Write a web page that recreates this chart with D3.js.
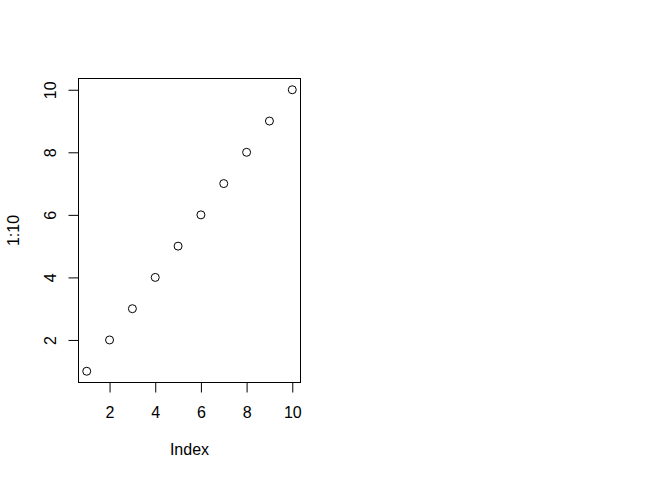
<!DOCTYPE html>
<html>
<head>
<meta charset="utf-8">
<script src="https://cdn.jsdelivr.net/npm/d3@7"></script>
<style>
  html, body { margin: 0; padding: 0; background: #fff; }
  svg { display: block; }
  text { font-family: "Liberation Sans", Arial, Helvetica, sans-serif; font-size: 16px; fill: #000; }
</style>
</head>
<body>
<svg id="chart" width="672" height="480"></svg>
<script>
const indexValues = [1, 2, 3, 4, 5, 6, 7, 8, 9, 10];
const seriesValues = [1, 2, 3, 4, 5, 6, 7, 8, 9, 10];
const xTicks = [2, 4, 6, 8, 10];
const yTicks = [2, 4, 6, 8, 10];
const xLabel = "Index";
const yLabel = "1:10";

(function () {
const svg = d3.select("#chart");
const pL = 78.5, pR = 300.5, pT = 78.5, pB = 382.5;

// R-style 4% range extension
function ext(arr) {
  const [a, b] = d3.extent(arr);
  const d = (b - a) * 0.04;
  return [a - d, b + d];
}

const x = d3.scaleLinear().domain(ext(indexValues)).range([pL, pR]);
const y = d3.scaleLinear().domain(ext(seriesValues)).range([pB, pT]);

// Box
svg.append("rect")
  .attr("x", pL).attr("y", pT)
  .attr("width", pR - pL).attr("height", pB - pT)
  .attr("fill", "none").attr("stroke", "#000").attr("stroke-width", 1);

// X axis
const xAxis = d3.axisBottom(x).tickValues(xTicks).tickSize(10).tickPadding(0).tickFormat(d3.format("d"));
const gx = svg.append("g").attr("transform", `translate(0,${pB})`).call(xAxis);
gx.attr("font-size", null).attr("font-family", null);
gx.select(".domain").attr("d", `M${x(xTicks[0])},0H${x(xTicks[xTicks.length-1])}`).attr("stroke", "#000");
gx.selectAll("line").attr("stroke", "#000");
gx.selectAll("text")
  .attr("dy", null)
  .attr("y", 418 - pB)
  .attr("fill", "#000");

// Y axis
const yAxis = d3.axisLeft(y).tickValues(yTicks).tickSize(10).tickPadding(0).tickFormat(d3.format("d"));
const gy = svg.append("g").attr("transform", `translate(${pL},0)`).call(yAxis);
gy.attr("font-size", null).attr("font-family", null);
gy.select(".domain").attr("d", `M0,${y(yTicks[0])}V${y(yTicks[yTicks.length-1])}`).attr("stroke", "#000");
gy.selectAll("line").attr("stroke", "#000");
gy.selectAll(".tick text")
  .attr("dy", null)
  .attr("text-anchor", "middle")
  .attr("x", 0).attr("y", 0)
  .attr("transform", `translate(${56 - pL},0) rotate(-90)`)
  .attr("fill", "#000");

// Points
svg.append("g").selectAll("circle")
  .data(indexValues.map((d, i) => [d, seriesValues[i]]))
  .join("circle")
  .attr("cx", d => x(d[0]))
  .attr("cy", d => y(d[1]))
  .attr("r", 4)
  .attr("fill", "none")
  .attr("stroke", "#000")
  .attr("stroke-width", 1);

// Axis titles
svg.append("text")
  .attr("x", (pL + pR) / 2).attr("y", 455)
  .attr("text-anchor", "middle")
  .text(xLabel);

svg.append("text")
  .attr("transform", `translate(18.5,${(pT + pB) / 2}) rotate(-90)`)
  .attr("text-anchor", "middle")
  .text(yLabel);
})();
</script>
</body>
</html>
